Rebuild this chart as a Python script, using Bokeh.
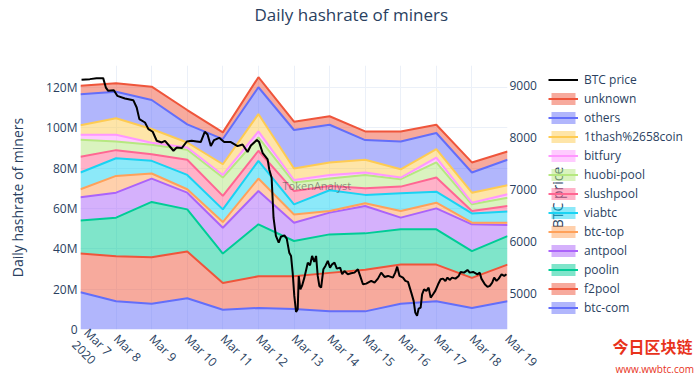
import numpy as np
import pandas as pd
from bokeh.plotting import figure
from bokeh.layouts import row
from bokeh.models import Range1d, LinearAxis, FixedTicker, Legend, LegendItem, Label, Title
from bokeh.embed import file_html
from bokeh.resources import INLINE

# ---------------- data ----------------
dates = ["2020-03-07", "2020-03-08", "2020-03-09", "2020-03-10", "2020-03-11",
         "2020-03-12", "2020-03-13", "2020-03-14", "2020-03-15", "2020-03-16",
         "2020-03-17", "2020-03-18", "2020-03-19"]
date_labels = ["Mar 7\n2020", "Mar 8", "Mar 9", "Mar 10", "Mar 11", "Mar 12", "Mar 13",
               "Mar 14", "Mar 15", "Mar 16", "Mar 17", "Mar 18", "Mar 19"]

btc_com = [18.5, 14.0, 12.8, 15.5, 9.8, 10.7, 10.2, 9.0, 9.0, 12.8, 14.0, 10.7, 14.0]
f2pool = [19.2, 22.4, 23.1, 23.2, 13.3, 15.7, 16.2, 19.1, 20.7, 19.4, 18.2, 14.9, 18.2]
poolin = [16.4, 19.1, 27.4, 20.9, 14.6, 25.8, 17.5, 19.1, 18.0, 17.5, 17.5, 13.3, 14.1]
antpool = [11.5, 12.4, 11.6, 8.3, 12.8, 16.5, 9.1, 10.8, 13.6, 5.8, 10.4, 13.3, 5.5]
btc_top = [4.0, 8.3, 2.5, 1.7, 2.8, 6.2, 4.1, 0.8, 1.3, 3.3, 2.8, 0.8, 1.2]
viabtc = [8.3, 8.8, 6.3, 7.1, 6.3, 8.8, 5.0, 10.3, 4.2, 8.8, 5.5, 4.6, 5.5]
slushpool = [7.8, 4.0, 3.3, 7.5, 6.7, 5.0, 6.6, 2.1, 3.3, 3.3, 7.0, 1.2, 2.8]
huobi_pool = [8.4, 4.3, 4.7, 5.0, 9.1, 6.6, 4.2, 3.7, 6.6, 3.7, 7.5, 3.3, 4.1]
bitfury = [2.5, 3.3, 1.0, 1.1, 1.3, 3.0, 1.3, 1.8, 1.2, 0.8, 2.4, 0.8, 1.7]
onethash = [4.8, 8.2, 6.8, 2.5, 5.3, 8.6, 5.7, 6.2, 6.3, 4.1, 4.2, 5.0, 4.5]
others = [15.3, 13.2, 14.4, 9.0, 12.5, 13.3, 19.1, 18.7, 9.8, 13.8, 8.0, 10.0, 12.6]
unknown = [4.3, 4.2, 6.6, 7.1, 3.3, 5.0, 4.1, 4.2, 4.3, 5.0, 4.1, 5.0, 4.1]

pool_names = ["btc-com", "f2pool", "poolin", "antpool", "btc-top", "viabtc", "slushpool",
              "huobi-pool", "bitfury", "1thash%2658coin", "others", "unknown"]
pool_values = [btc_com, f2pool, poolin, antpool, btc_top, viabtc, slushpool,
               huobi_pool, bitfury, onethash, others, unknown]
pool_colors = ["#636efa", "#EF553B", "#00cc96", "#ab63fa", "#FFA15A", "#19d3f3",
               "#FF6692", "#B6E880", "#FF97FF", "#FECB52", "#636efa", "#EF553B"]

# BTC price: hours after 2020-03-07 00:00, USD
btc_hours = [0.7, 6.3, 10.8, 15.3, 17.1, 18.7, 22.5, 24.8, 30.0, 35.6, 37.9, 39.7, 43.5, 45.8,
             48.7, 51.4, 54.8, 57.0, 60.4, 62.7, 64.9, 68.3, 71.7, 75.0, 78.4, 81.1, 83.8,
             85.7, 87.9, 90.1, 93.5, 96.9, 101.4, 105.9, 109.3, 112.7, 114.9, 119.0, 120.5,
             122.8, 126.2, 127.3, 128.9, 130.2, 131.8, 133.7, 135.2, 137.5, 139.1, 140.8,
             142.0, 143.1, 144.2, 145.4, 146.5, 147.2, 148.3, 149.4, 151.0, 153.3, 154.8,
             156.2, 157.7, 158.9, 160.0, 161.1, 162.3, 163.8, 165.2, 166.8, 168.3, 169.7,
             171.3, 172.9, 175.1, 176.5, 178.0, 180.3, 182.5, 184.8, 187.1, 188.6, 190.5,
             192.7, 196.1, 198.3, 200.6, 202.8, 205.1, 207.4, 210.7, 212.3, 213.6, 215.2,
             217.5, 219.1, 220.9, 223.1, 224.7, 225.8, 227.0, 228.1, 229.4, 230.4, 231.7,
             233.3, 234.8, 236.2, 237.8, 239.3, 241.2, 242.9, 244.5, 246.1, 247.5, 249.0,
             250.6, 252.9, 255.1, 256.4, 258.7, 261.0, 262.5, 264.8, 267.7, 269.3, 270.4,
             272.7, 274.5, 276.1, 277.7, 279.0, 280.6, 282.1, 284.0, 285.8, 287.3]
btc_price = [9109, 9123, 9142, 9142, 8961, 8898, 8911, 8802, 8750, 8719, 8577, 8354, 8289, 8162,
             8111, 7938, 7905, 7938, 7823, 7746, 7809, 7798, 7924, 7938, 7924, 7913, 8111,
             8059, 7836, 7951, 7995, 7913, 7913, 7836, 7867, 7721, 7848, 7951, 7913,
             7707, 7579, 7387, 7227, 6459, 6108, 5979, 6094, 6119, 6056, 5787,
             5724, 5403, 4956, 4649, 4699, 5340, 5083, 5148, 5307, 5595, 5543,
             5724, 5609, 5724, 5340, 5148, 5115, 5467, 5532, 5628, 5499, 5563,
             5595, 5480, 5499, 5371, 5436, 5371, 5390, 5403, 5467, 5340, 5179,
             5192, 5244, 5211, 5288, 5403, 5320, 5340, 5307, 5403, 5518, 5340,
             5307, 5244, 5225, 5019, 4860, 4635, 4572, 4712, 4731, 4987, 5083,
             5052, 5115, 4923, 4987, 5052, 5179, 5275, 5288, 5244, 5307, 5263,
             5307, 5288, 5340, 5417, 5403, 5455, 5403, 5417, 5371, 5403, 5288,
             5179, 5129, 5148, 5211, 5307, 5244, 5288, 5371, 5340, 5371]

y_ticks = [0, 20e6, 40e6, 60e6, 80e6, 100e6, 120e6]
y_tick_labels = ["0", "20M", "40M", "60M", "80M", "100M", "120M"]
price_ticks = [5000, 6000, 7000, 8000, 9000]

# ---------------- main figure ----------------
FONT = "Open Sans"
TXT = "#2a3f5f"
GRID = "#EBF0F8"
FW, FH = 427, 264
TOP, BOT = 63, 48
P_LO, P_HI = 4310, 9385

d = pd.to_datetime(dates)
xday = np.array((d - d[0]).days, dtype=float)
btc_x = np.array(btc_hours) / 24.0

p = figure(frame_width=FW, frame_height=FH,
           x_range=Range1d(0, 12), y_range=Range1d(0, 131e6),
           output_backend="svg", toolbar_location=None,
           min_border_left=80, min_border_right=41, min_border_top=TOP, min_border_bottom=BOT,
           background_fill_color="white", border_fill_color="white")
p.outline_line_color = None
p.extra_y_ranges = {"btc": Range1d(P_LO, P_HI)}

# title (at the top edge; an empty spacer title keeps it away from the frame)
p.title.text = "Daily hashrate of miners"
p.title.align = "left"
p.title.offset = 174
p.title.standoff = 0
p.title.text_font = FONT
p.title.text_font_size = "17px"
p.title.text_font_style = "normal"
p.title.text_color = TXT
p.add_layout(Title(text=" ", text_font_size="1px", standoff=37), "above")

# stacked areas
bottom = np.zeros(len(dates))
tops = []
for name, vals, col in zip(pool_names, pool_values, pool_colors):
    top = bottom + np.array(vals) * 1e6
    p.varea(x=xday, y1=bottom, y2=top, fill_color=col, fill_alpha=0.5)
    tops.append(top)
    bottom = top
for top, col in zip(tops, pool_colors):
    p.line(x=xday, y=top, line_color=col, line_width=2)

p.line(x=btc_x, y=btc_price, line_color="black", line_width=2, y_range_name="btc")

# axes
p.xaxis.ticker = FixedTicker(ticks=list(xday))
p.xaxis.major_label_overrides = {float(k): v for k, v in zip(xday, date_labels)}
p.xaxis.major_label_orientation = -np.pi / 4
p.yaxis.ticker = FixedTicker(ticks=y_ticks)
p.yaxis.major_label_overrides = {float(k): v for k, v in zip(y_ticks, y_tick_labels)}
p.yaxis.axis_label = "Daily hashrate of miners"

ax2 = LinearAxis(y_range_name="btc", ticker=FixedTicker(ticks=price_ticks))
p.add_layout(ax2, "right")

for ax in [p.xaxis[0], p.yaxis[0], ax2]:
    ax.axis_line_color = None
    ax.major_tick_line_color = None
    ax.minor_tick_line_color = None
    ax.major_tick_out = 0
    ax.major_tick_in = 0
    ax.major_label_text_font = FONT
    ax.major_label_text_font_size = "12px"
    ax.major_label_text_color = TXT
    ax.axis_label_text_font = FONT
    ax.axis_label_text_font_size = "14px"
    ax.axis_label_text_color = TXT
    ax.axis_label_text_font_style = "normal"
p.xaxis.major_label_standoff = 7
p.xaxis.major_label_text_line_height = 1.0
p.yaxis.major_label_standoff = 3
p.yaxis.axis_label_standoff = 16
ax2.major_label_standoff = 2

p.xgrid.grid_line_color = GRID
p.ygrid.grid_line_color = GRID

p.add_layout(Label(x=202, y=144, x_units="screen", y_units="screen",
                   text="TokenAnalyst", text_align="left", text_baseline="middle",
                   text_font=FONT, text_font_size="11px", text_color="#444444",
                   text_alpha=0.55))

# ---------------- side panel: axis title + legend (same frame rows as main) ----------------
SW = 152
q = figure(frame_width=SW, frame_height=FH, x_range=Range1d(0, SW), y_range=Range1d(0, FH),
           output_backend="svg", toolbar_location=None,
           min_border_left=0, min_border_right=0, min_border_top=TOP, min_border_bottom=BOT,
           x_axis_type=None, y_axis_type=None,
           background_fill_color="white", border_fill_color="white")
q.outline_line_color = None
q.xgrid.visible = False
q.ygrid.visible = False

# legend keys (styled like the traces, holding no visible data)
key_btc = q.line(x=[np.nan], y=[np.nan], line_color="black", line_width=2)
key_items = [LegendItem(label="BTC price", renderers=[key_btc])]
for i in reversed(range(len(pool_names))):
    ka = q.varea(x=[np.nan], y1=[np.nan], y2=[np.nan], fill_color=pool_colors[i], fill_alpha=0.5)
    kl = q.line(x=[np.nan], y=[np.nan], line_color=pool_colors[i], line_width=2)
    key_items.append(LegendItem(label=pool_names[i], renderers=[ka, kl]))
legend = Legend(items=key_items, location=(0, 12), orientation="vertical",
                padding=0, margin=0, spacing=0, glyph_width=30, glyph_height=15,
                label_height=19, label_standoff=6, border_line_color=None,
                background_fill_alpha=0,
                label_text_font=FONT, label_text_font_size="12px", label_text_color=TXT)
q.add_layout(legend, "center")

q.add_layout(Label(x=9, y=FH / 2, x_units="screen", y_units="screen", text="BTC price",
                   angle=np.pi / 2, text_align="center", text_baseline="middle",
                   text_font=FONT, text_font_size="14px", text_color=TXT))

# watermark texts of the original picture, below the legend
q.add_layout(Title(text="今日区块链", align="left", offset=64, standoff=4,
                   text_font="Noto Sans CJK SC", text_font_size="16px",
                   text_font_style="bold", text_color="#e8331c"), "below")
q.add_layout(Title(text="www.wwbtc.com", align="left", offset=67, standoff=0,
                   text_font=FONT, text_font_size="10px", text_font_style="normal",
                   text_color="#e8331c"), "below")

open("out.html", "w").write(file_html(row(p, q, spacing=0), INLINE))
